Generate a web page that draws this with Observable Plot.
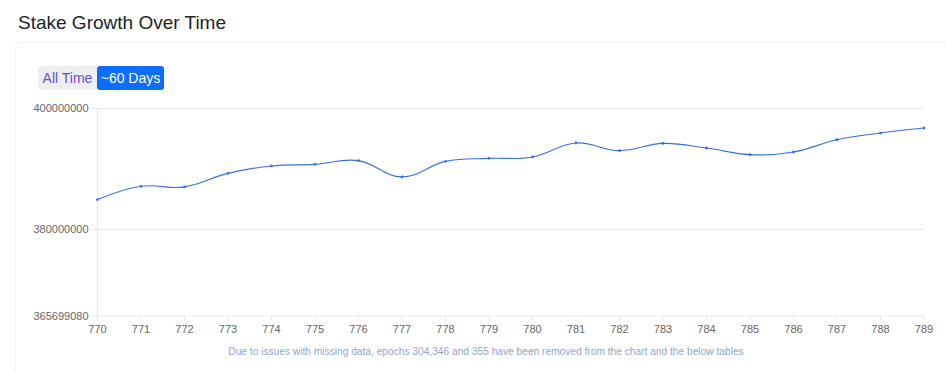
<!DOCTYPE html>
<html>
<head>
<meta charset="utf-8">
<script src="https://cdn.jsdelivr.net/npm/d3@7"></script>
<script src="https://cdn.jsdelivr.net/npm/@observablehq/plot@0.6"></script>
<style>
  html, body { margin: 0; padding: 0; background: #fff; }
  body { width: 946px; height: 371px; position: relative; overflow: hidden; font-family: "Liberation Sans", Arial, Helvetica, sans-serif; }
  #title { position: absolute; left: 18px; top: 12px; font-size: 19px; color: #212529; }
  #card { position: absolute; left: 15px; top: 42px; width: 940px; height: 340px; border: 1px solid #f3f3f3; border-radius: 4px; }
  #buttons { position: absolute; left: 38px; top: 66px; display: flex; height: 24px; }
  .btn { font-size: 14px; line-height: 24px; text-align: center; }
  .btn.off { width: 59px; background: #eeeef1; color: #6a4fd0; border-radius: 3px 0 0 3px; }
  .btn.on { width: 67px; background: #0d6efd; color: #fff; border-radius: 3px; }
  #chart { position: absolute; left: 0; top: 90px; }
  #caption { position: absolute; left: 15px; width: 942px; top: 346px; text-align: center; font-size: 10.2px; color: #95a4c4; }
</style>
</head>
<body>
<div id="title">Stake Growth Over Time</div>
<div id="card"></div>
<div id="buttons"><div class="btn off">All Time</div><div class="btn on">~60 Days</div></div>
<div id="chart"></div>
<div id="caption">Due to issues with missing data, epochs 304,346 and 355 have been removed from the chart and the below tables</div>
<script>
const epochs = [770, 771, 772, 773, 774, 775, 776, 777, 778, 779, 780, 781, 782, 783, 784, 785, 786, 787, 788, 789];
const stake = [384946400, 387140000, 387040000, 389280000, 390500000, 390770000, 391380000, 388690000, 391260000, 391760000,
               391990000, 394300000, 393030000, 394230000, 393470000, 392370000, 392810000, 394840000, 395940000, 396770000];
const yTicks = [365699080, 380000000, 400000000];
const yDomain = [365699080, 400000000];

const data = epochs.map((e, i) => ({epoch: e, stake: stake[i]}));
const lineColor = "#3a6fe3";
const gridColor = "#e8e8e8";

const chart = Plot.plot({
  width: 946,
  height: 260,
  marginLeft: 97,
  marginRight: 22.5,
  marginTop: 18,
  marginBottom: 34.5,
  style: {fontFamily: "'Liberation Sans', Arial, Helvetica, sans-serif", fontSize: "11px", color: "#666", background: "transparent"},
  x: {domain: [epochs[0], epochs[epochs.length - 1]], axis: null, label: null},
  y: {domain: yDomain, axis: null, label: null},
  marks: [
    Plot.gridY(yTicks, {stroke: gridColor, strokeOpacity: 1}),
    Plot.gridX([epochs[0]], {stroke: gridColor, strokeOpacity: 1}),
    Plot.axisY(yTicks, {tickSize: 6, tickPadding: 3, stroke: gridColor, label: null, tickFormat: d => String(d)}),
    Plot.axisX(epochs, {tickSize: 5, tickPadding: 4, stroke: gridColor, label: null, tickFormat: d => String(d)}),
    Plot.line(data, {x: "epoch", y: "stake", curve: "cardinal", tension: -0.2, stroke: lineColor, strokeWidth: 1.1}),
    Plot.dot(data, {x: "epoch", y: "stake", r: 1.4, fill: lineColor})
  ]
});
document.getElementById("chart").appendChild(chart);
</script>
</body>
</html>
